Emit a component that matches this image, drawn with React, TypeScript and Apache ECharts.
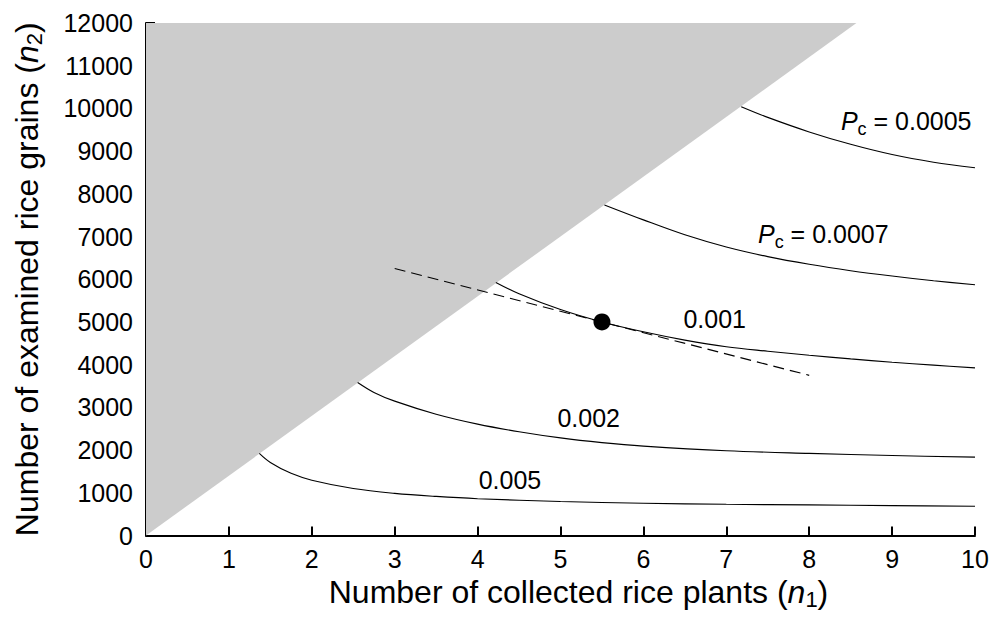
import React, { useEffect, useRef } from "react";
import * as echarts from "echarts";

const FONT = "'Liberation Sans', Arial, Helvetica, sans-serif";

// Shaded infeasible region (triangle vertices, data units)
const boundaryX = [0, 8.57, 0];
const boundaryY = [0, 12000, 12000];

// Iso-Pc curves (n1, n2)
const curve0005X = [7.18, 7.5, 8, 8.5, 9, 9.5, 10];
const curve0005Y = [10040, 9790, 9450, 9160, 8920, 8740, 8610];

const curve0007X = [5.53, 6, 6.5, 7, 7.5, 8, 8.5, 9, 9.5, 10];
const curve0007Y = [7740, 7390, 7040, 6755, 6530, 6350, 6200, 6075, 5965, 5870];

const curve001X = [4.22, 4.5, 5, 5.5, 6, 6.5, 7, 7.5, 8, 8.5, 9, 9.5, 10];
const curve001Y = [5925, 5660, 5290, 5000, 4770, 4575, 4420, 4315, 4220, 4135, 4058, 3990, 3925];

const curve002X = [2.553, 2.75, 3, 3.5, 4, 4.5, 5, 5.5, 6, 7, 8, 9, 10];
const curve002Y = [3583, 3350, 3146, 2840, 2608, 2430, 2285, 2175, 2093, 1984, 1922, 1872, 1836];

const curve005X = [1.367, 1.5, 1.75, 2, 2.5, 3, 3.5, 4, 5, 6, 7, 8, 9, 10];
const curve005Y = [1923, 1710, 1455, 1295, 1100, 987, 915, 862, 795, 755, 730, 716, 700, 686];

// Tangent line and optimum point
const tangentX = [3, 8];
const tangentY = [6250, 3750];
const optimumX = [5.5];
const optimumY = [5000];

// Curve labels (anchor in data units)
const labelTexts = ["{i|P}{s|c} = 0.0005", "{i|P}{s|c} = 0.0007", "0.001", "0.002", "0.005"];
const labelX = [9.17, 8.17, 6.86, 5.34, 4.39];
const labelY = [9695, 7052, 5080, 2741, 1298];

// Axes
const xMin = 0, xMax = 10, xStep = 1;
const yMin = 0, yMax = 12000, yStep = 1000;

const zip = (xs: number[], ys: number[]) => xs.map((x, i) => [x, ys[i]]);

const curveSeries = (name: string, xs: number[], ys: number[]) => ({
  name,
  type: "line",
  data: zip(xs, ys),
  smooth: 0.35,
  symbol: "none",
  lineStyle: { color: "#000", width: 1.1 },
  z: 3,
});

export default function App() {
  const ref = useRef<HTMLDivElement>(null);
  useEffect(() => {
    if (!ref.current) return;
    const chart = echarts.init(ref.current, null, { renderer: "svg" });
    const subRich = {
      i: { fontStyle: "italic", fontSize: 25, fontFamily: FONT, color: "#000" },
      s: { fontSize: 18, fontFamily: FONT, color: "#000", padding: [16, 0, 0, 0] },
    };
    const titleRich = {
      i: { fontStyle: "italic", fontSize: 32, fontFamily: FONT, color: "#000" },
      s: { fontSize: 22, fontFamily: FONT, color: "#000", padding: [15, 0, 0, 0] },
    };
    chart.setOption({
      animation: false,
      backgroundColor: "#fff",
      grid: { left: 146, right: 14, top: 23, bottom: 83.5, outerBoundsMode: "none" },
      xAxis: {
        type: "value",
        min: xMin,
        max: xMax,
        interval: xStep,
        name: "Number of collected rice plants ({i|n}{s|1})",
        nameLocation: "middle",
        nameGap: 34,
        nameTextStyle: { fontSize: 32, fontFamily: FONT, color: "#000", rich: titleRich, padding: [0, 0, 0, 36] },
        axisLine: { show: true, onZero: false, lineStyle: { color: "#000", width: 2 } },
        axisTick: { show: true, inside: true, length: 9, lineStyle: { color: "#000", width: 2 } },
        axisLabel: { fontSize: 25, fontFamily: FONT, color: "#000", margin: 11, formatter: (v: number) => String(v) },
        splitLine: { show: false },
      },
      yAxis: {
        type: "value",
        min: yMin,
        max: yMax,
        interval: yStep,
        name: "Number of examined rice grains ({i|n}{s|2})",
        nameLocation: "middle",
        nameGap: 101,
        nameTextStyle: { fontSize: 32, fontFamily: FONT, color: "#000", rich: titleRich },
        axisLine: { show: true, onZero: false, lineStyle: { color: "#000", width: 2 } },
        axisTick: { show: true, inside: true, length: 9, lineStyle: { color: "#000", width: 2 } },
        axisLabel: { fontSize: 25, fontFamily: FONT, color: "#000", margin: 13, formatter: (v: number) => String(v) },
        splitLine: { show: false },
      },
      series: [
        {
          name: "infeasible",
          type: "custom",
          data: zip(boundaryX, boundaryY),
          z: 1,
          silent: true,
          renderItem: (params: any, api: any) => {
            if (params.dataIndex !== 0) return null;
            const pts = boundaryX.map((x, i) => api.coord([x, boundaryY[i]]));
            return { type: "polygon", shape: { points: pts }, style: { fill: "#cccccc" } };
          },
        },
        curveSeries("0.0005", curve0005X, curve0005Y),
        curveSeries("0.0007", curve0007X, curve0007Y),
        curveSeries("0.001", curve001X, curve001Y),
        curveSeries("0.002", curve002X, curve002Y),
        curveSeries("0.005", curve005X, curve005Y),
        {
          name: "tangent",
          type: "line",
          data: zip(tangentX, tangentY),
          symbol: "none",
          lineStyle: { color: "#000", width: 1.1, type: [11, 6] },
          z: 4,
        },
        {
          name: "optimum",
          type: "scatter",
          data: zip(optimumX, optimumY),
          symbol: "circle",
          symbolSize: 17,
          itemStyle: { color: "#000", opacity: 1 },
          z: 5,
        },
        {
          name: "labels",
          type: "scatter",
          data: zip(labelX, labelY),
          symbolSize: 0,
          itemStyle: { color: "rgba(0,0,0,0)", opacity: 1 },
          z: 6,
          label: {
            show: true,
            position: "inside",
            formatter: (p: any) => labelTexts[p.dataIndex],
            fontSize: 25,
            fontFamily: FONT,
            color: "#000",
            opacity: 1,
            rich: subRich,
          },
        },
      ],
    });
    return () => chart.dispose();
  }, []);
  return (
    <div
      ref={ref}
      style={{ position: "absolute", left: 0, top: 0, width: 989, height: 619, background: "#fff" }}
    />
  );
}
